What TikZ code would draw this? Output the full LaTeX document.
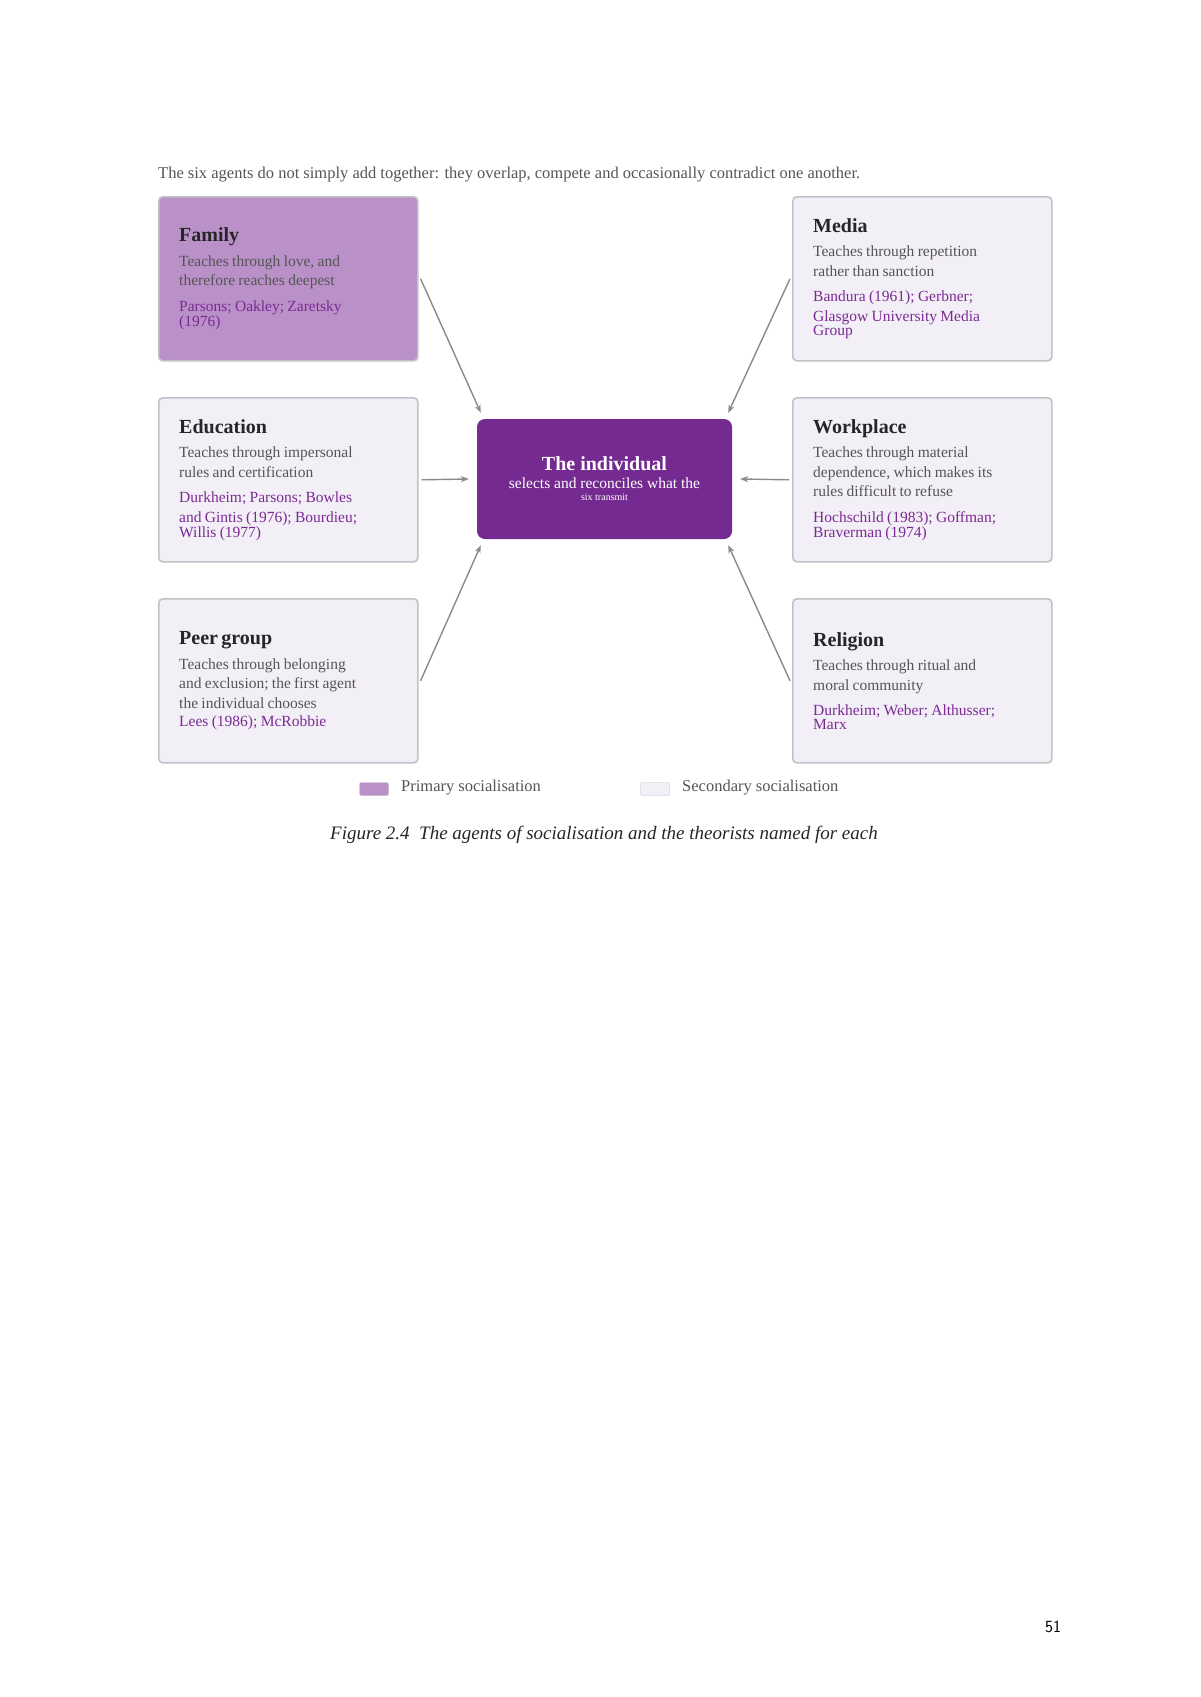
\documentclass[tikz,border=0pt]{standalone}
\usepackage{fontspec}
\setmainfont{Liberation Serif}
\usetikzlibrary{arrows.meta}
\definecolor{prim}{HTML}{BA90C8}
\definecolor{sec}{HTML}{F3EFF6}
\definecolor{bord}{HTML}{C4C0C8}
\definecolor{cen}{HTML}{742A91}
\definecolor{auth}{HTML}{7B2A94}
\definecolor{body}{HTML}{555555}
\definecolor{arr}{HTML}{8A8A8A}
\newcommand{\ttlf}{\fontsize{20}{24}\selectfont\bfseries}
\newcommand{\bdyf}{\fontsize{15.5}{19.5}\selectfont\mdseries}
\begin{document}
\begin{tikzpicture}[x=1pt,y=-1pt,
 agent/.style={draw=bord,line width=1.6pt,rounded corners=4pt,minimum width=259pt,minimum height=164pt,anchor=north west,inner sep=0pt},
 content/.style={text width=220pt,align=left,anchor=west,inner sep=0pt},
 conn/.style={draw=arr,line width=1.4pt,-{Stealth[length=8pt,width=6pt]}}]
\useasboundingbox (0,0) rectangle (1200,1697);
\fill[white] (0,0) rectangle (1200,1697);
\node[anchor=west,font=\fontsize{16.5}{20}\selectfont,text=body,inner sep=0pt] (intro) at (158,175) {The six agents do not simply add together: they overlap, compete and occasionally contradict one another.};
\newcommand{\agentbox}[7]{%
 \node[agent,fill=#4] (#1) at (#2,#3) {};
 \node[content] (#1t) at ([xshift=21pt]#1.west) {\ttlf\color{black!85}#5\\[5pt]\bdyf\color{body}#6\\[6pt]\color{auth}#7};}
\agentbox{fam}{158}{196}{prim}{Family}{Teaches through love, and\\therefore reaches deepest}{Parsons; Oakley; Zaretsky\\(1976)}
\agentbox{med}{792}{196}{sec}{Media}{Teaches through repetition\\rather than sanction}{Bandura (1961); Gerbner;\\Glasgow University Media\\Group}
\agentbox{edu}{158}{397}{sec}{Education}{Teaches through impersonal\\rules and certification}{Durkheim; Parsons; Bowles\\and Gintis (1976); Bourdieu;\\Willis (1977)}
\agentbox{wor}{792}{397}{sec}{Workplace}{Teaches through material\\dependence, which makes its\\rules difficult to refuse}{Hochschild (1983); Goffman;\\Braverman (1974)}
\agentbox{peer}{158}{598}{sec}{Peer group}{Teaches through belonging\\and exclusion; the first agent\\the individual chooses}{Lees (1986); McRobbie}
\agentbox{rel}{792}{598}{sec}{Religion}{Teaches through ritual and\\moral community}{Durkheim; Weber; Althusser;\\Marx}
\node[fill=cen,rounded corners=8pt,minimum width=255pt,minimum height=120pt,inner sep=0pt] (ind) at (604.5,479) {};
\node[text=white,align=center,inner sep=0pt] (indt) at (ind.center) {\ttlf The individual\\[6pt]\bdyf selects and reconciles what the\\six transmit};
\draw[conn] ([xshift=2pt]fam.east) -- ([xshift=4pt,yshift=6pt]ind.north west);
\draw[conn] ([xshift=-2pt]med.west) -- ([xshift=-4pt,yshift=6pt]ind.north east);
\draw[conn] ([xshift=3pt]edu.east) -- ([xshift=-8pt]ind.west);
\draw[conn] ([xshift=-3pt]wor.west) -- ([xshift=8pt]ind.east);
\draw[conn] ([xshift=2pt]peer.east) -- ([xshift=4pt,yshift=-6pt]ind.south west);
\draw[conn] ([xshift=-2pt]rel.west) -- ([xshift=-4pt,yshift=-6pt]ind.south east);
\node[draw=bord,fill=prim,rounded corners=2pt,minimum width=29pt,minimum height=13pt,inner sep=0pt] (lp) at (374,789) {};
\node[anchor=west,font=\fontsize{16.5}{20}\selectfont,text=body,inner sep=0pt] (lpt) at (401,788) {Primary socialisation};
\node[draw=bord,fill=sec,rounded corners=2pt,minimum width=29pt,minimum height=13pt,inner sep=0pt] (ls) at (655,789) {};
\node[anchor=west,font=\fontsize{16.5}{20}\selectfont,text=body,inner sep=0pt] (lst) at (682,788) {Secondary socialisation};
\node[font=\fontsize{19}{23}\selectfont\itshape,text=black!85,inner sep=0pt] (cap) at (604,835) {Figure 2.4\enspace The agents of socialisation and the theorists named for each};
\node[font=\sffamily\fontsize{17}{20}\selectfont,inner sep=0pt] (pg) at (1053,1627) {51};
\end{tikzpicture}
\end{document}
